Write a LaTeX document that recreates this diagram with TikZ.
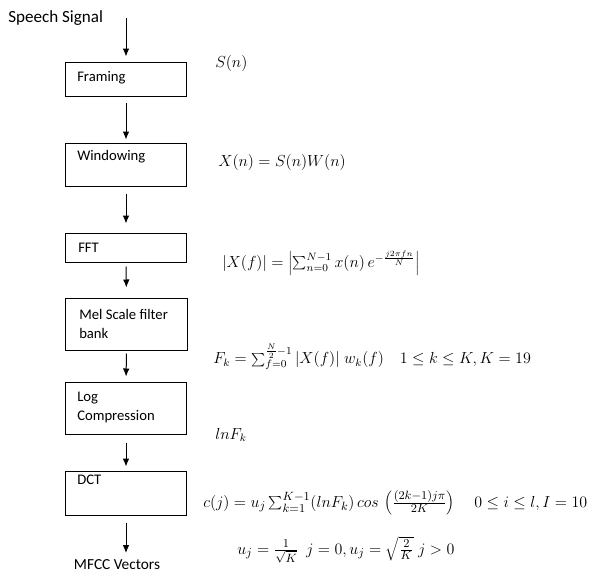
\documentclass[tikz,border=0pt]{standalone}
\usepackage{fontspec}
\setmainfont{Carlito}
\usetikzlibrary{arrows.meta}
\begin{document}
\begin{tikzpicture}[x=0.75pt,y=-0.75pt,
  stepbox/.style={draw, line width=0.75pt, minimum width=91pt, inner sep=0pt},
  boxtext/.style={anchor=west, inner sep=0pt, align=left, font=\fontsize{11}{14.25}\selectfont},
  flow/.style={-{Latex[length=6pt,width=5pt]}, line width=0.75pt},
  eq/.style={anchor=west, inner sep=0pt, font=\fontsize{12}{14}\selectfont}]
\useasboundingbox (0,0) rectangle (601,576);

% boxes
\node[stepbox, minimum height=25.5pt] (framing) at (126,79) {};
\node[stepbox, minimum height=32.25pt] (windowing) at (126,164.5) {};
\node[stepbox, minimum height=21.75pt] (fft) at (126,247.5) {};
\node[stepbox, minimum height=39pt] (mel) at (126.5,324) {};
\node[stepbox, minimum height=39pt] (logc) at (126,408) {};
\node[stepbox, minimum height=33pt] (dct) at (126,493) {};

% box texts
\node[boxtext] (tframing) at (77,78) {Framing};
\node[boxtext] (twindowing) at (77,157) {Windowing};
\node[boxtext] (tfft) at (78,248) {FFT};
\node[boxtext] (tmel) at (79,323.5) {Mel Scale filter\\bank};
\node[boxtext] (tlogc) at (77,407) {Log\\Compression};
\node[boxtext] (tdct) at (77,480) {DCT};

% input / output labels
\node[anchor=west, inner sep=0pt, font=\fontsize{12.8}{15}\selectfont] (speech) at (8,18) {Speech Signal};
\node[inner sep=0pt, font=\fontsize{11.5}{14}\selectfont] (mfcc) at (117,565) {MFCC Vectors};
\coordinate (speechstart) at (126,18);
\coordinate (mfccend) at (126,553);

% connectors
\draw[flow, shorten >=3.75pt] (speechstart) -- (framing.north);
\draw[flow, shorten <=4.5pt, shorten >=2.25pt] (framing.south) -- (windowing.north);
\draw[flow, shorten <=5.25pt, shorten >=6.75pt] (windowing.south) -- (fft.north);
\draw[flow, shorten <=3pt, shorten >=7.5pt] (fft.south) -- (mel.north);
\draw[flow, shorten <=2.25pt, shorten >=3.75pt] (mel.south) -- (logc.north);
\draw[flow, shorten <=6pt, shorten >=3pt] (logc.south) -- (dct.north);
\draw[flow, shorten <=5.25pt] (dct.south) -- (mfccend);

% equations
\node[eq] (eqs) at (215,63) {$S(n)$};
\node[eq, font=\fontsize{12.5}{14}\selectfont] (eqx) at (218,162) {$X(n) = S(n)W(n)$};
\node[eq] (eqfft) at (222,263) {$|X(f)| = \left|\sum_{n=0}^{N-1} x(n)\, e^{-\frac{j2\pi f n}{N}}\right|$};
\node[eq] (eqmel) at (213,357) {$F_k = \sum_{f=0}^{\frac{N}{2}-1} |X(f)|\; w_k(f) \quad 1 \le k \le K, K = 19$};
\node[eq] (eqlog) at (215,435) {$lnF_k$};
\node[eq, font=\fontsize{12.7}{14}\selectfont] (eqdct) at (203,503) {$c(j) = u_j \sum_{k=1}^{K-1} (lnF_k)\, cos\,\left(\frac{(2k-1)j\pi}{2K}\right) \quad 0 \le i \le l, I = 10$};
\node[eq, font=\fontsize{12.7}{14}\selectfont] (equj) at (237,550) {$u_j = \frac{1}{\sqrt{K}}\ \ j = 0, u_j = \sqrt{\frac{2}{K}}\; j > 0$};
\end{tikzpicture}
\end{document}
